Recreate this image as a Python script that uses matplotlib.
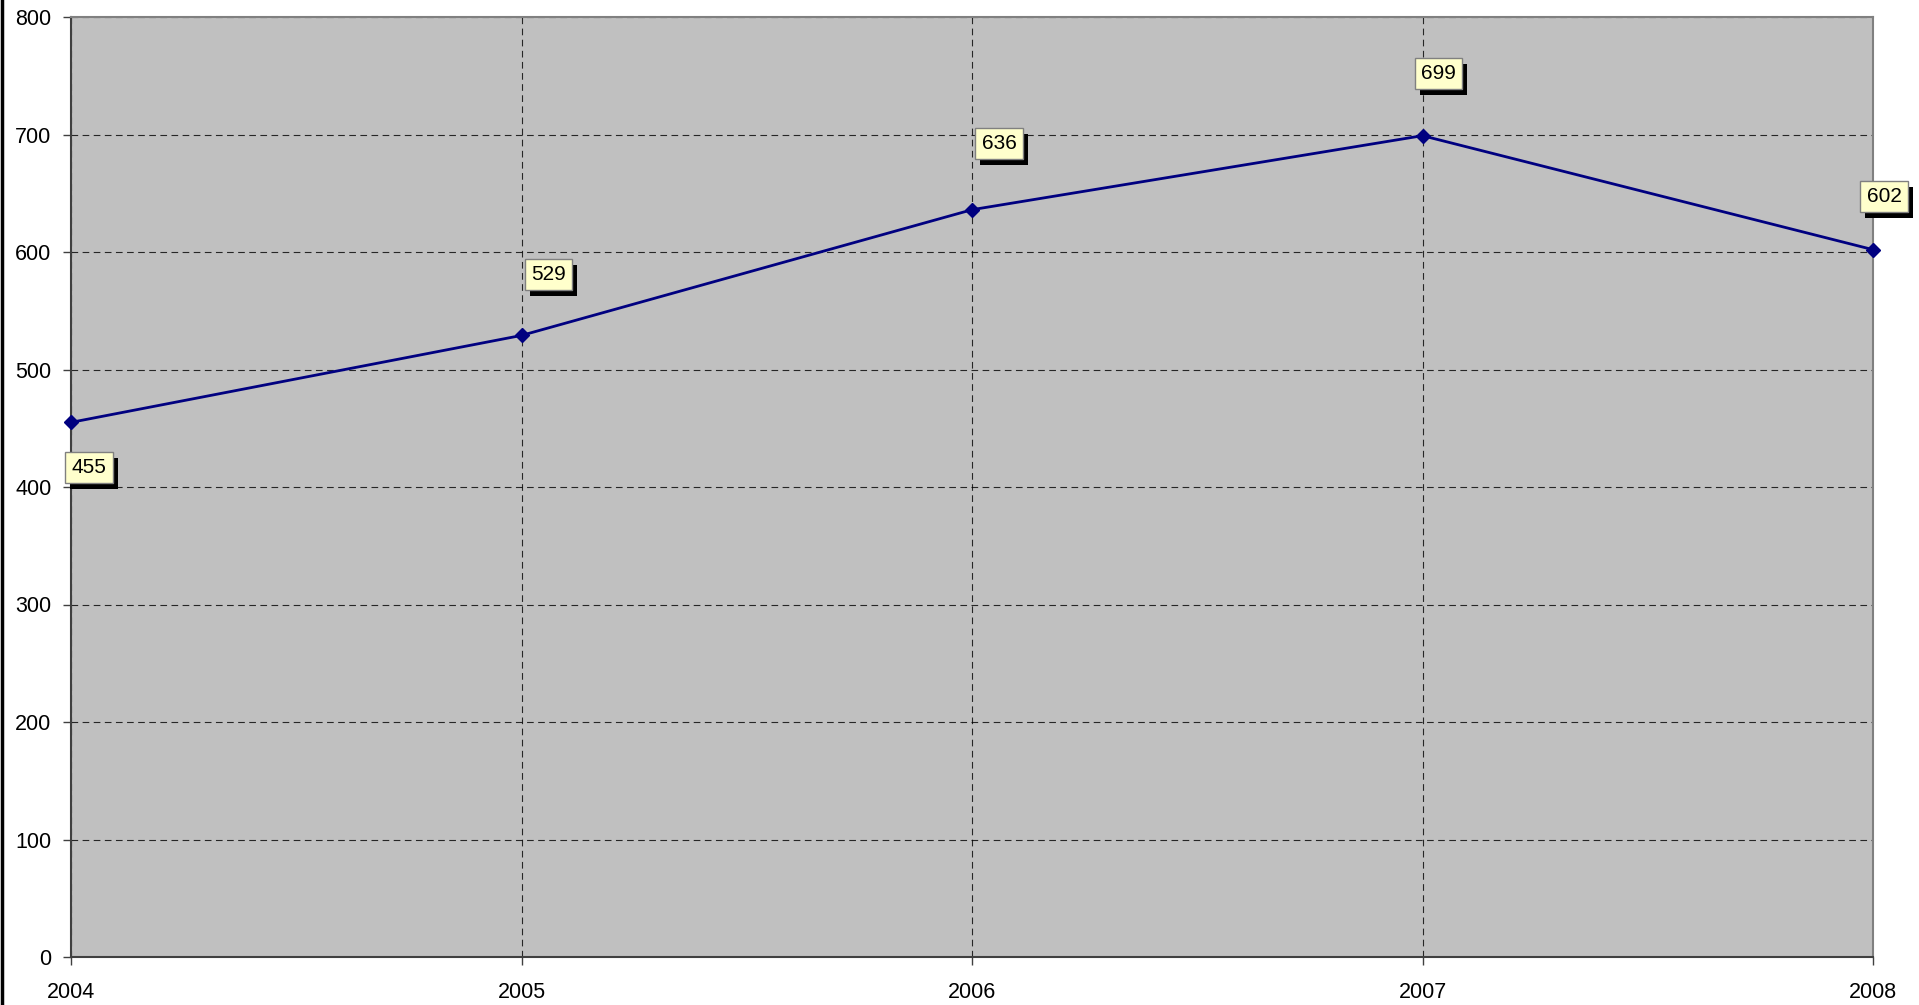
import numpy as np
from matplotlib import pyplot as plt
from matplotlib.lines import Line2D
from matplotlib.patches import Rectangle
from matplotlib.transforms import IdentityTransform

# Data
years = [2004, 2005, 2006, 2007, 2008]
values = [455, 529, 636, 699, 602]
y_ticks = [0, 100, 200, 300, 400, 500, 600, 700, 800]

plt.rcParams['font.family'] = ['Liberation Sans', 'DejaVu Sans']

fig = plt.figure(figsize=(19.19, 10.05), dpi=100)
ax = fig.add_axes([71 / 1919, 1 - 957 / 1005, (1873 - 71) / 1919, (957 - 17) / 1005])

# Background and grid
ax.set_facecolor('#C0C0C0')
ax.grid(True, color='black', linestyle=(0, (6, 4)), linewidth=0.8, alpha=0.8)
ax.set_axisbelow(True)

# Series
ax.plot(years, values, color='#000080', linewidth=2, marker='D', markersize=7,
        zorder=3, clip_on=False)

# Data labels
offsets = [(18, -45), (27, 61), (27, 66), (16, 62), (11, 53)]
labels = []
for x, y, (dx, dy) in zip(years, values, offsets):
    t = ax.annotate(str(y), (x, y), xytext=(dx, dy), textcoords='offset pixels',
                    ha='center', va='center', fontsize=15, color='black',
                    bbox=dict(boxstyle='square,pad=0.3', facecolor='#FFFFCC',
                              edgecolor='#808080', linewidth=1),
                    zorder=5, annotation_clip=False)
    labels.append(t)

# Axes
ax.set_xlim(2004, 2008)
ax.set_ylim(0, 800)
ax.set_xticks(years)
ax.set_yticks(y_ticks)
ax.tick_params(axis='both', direction='out', length=6, width=1, color='#404040',
               labelsize=15.5, pad=8)
ax.tick_params(axis='x', pad=12)

for side in ['left', 'bottom']:
    ax.spines[side].set_color('#404040')
    ax.spines[side].set_linewidth(1.5)
for side in ['top', 'right']:
    ax.spines[side].set_color('#808080')
    ax.spines[side].set_linewidth(1.5)

# Left border line of the chart area
fig.add_artist(Line2D([0.0008, 0.0008], [0, 1], color='black', linewidth=2.5,
                      transform=fig.transFigure))

# Shadows behind the label boxes
fig.canvas.draw()
for t in labels:
    bb = t.get_bbox_patch().get_window_extent()
    shadow = Rectangle((bb.x0 + 5, bb.y0 - 6), bb.width, bb.height,
                       transform=IdentityTransform(), facecolor='black',
                       edgecolor='none', zorder=4.5, clip_on=False)
    ax.add_patch(shadow)

fig.savefig('out.png', dpi=100)
